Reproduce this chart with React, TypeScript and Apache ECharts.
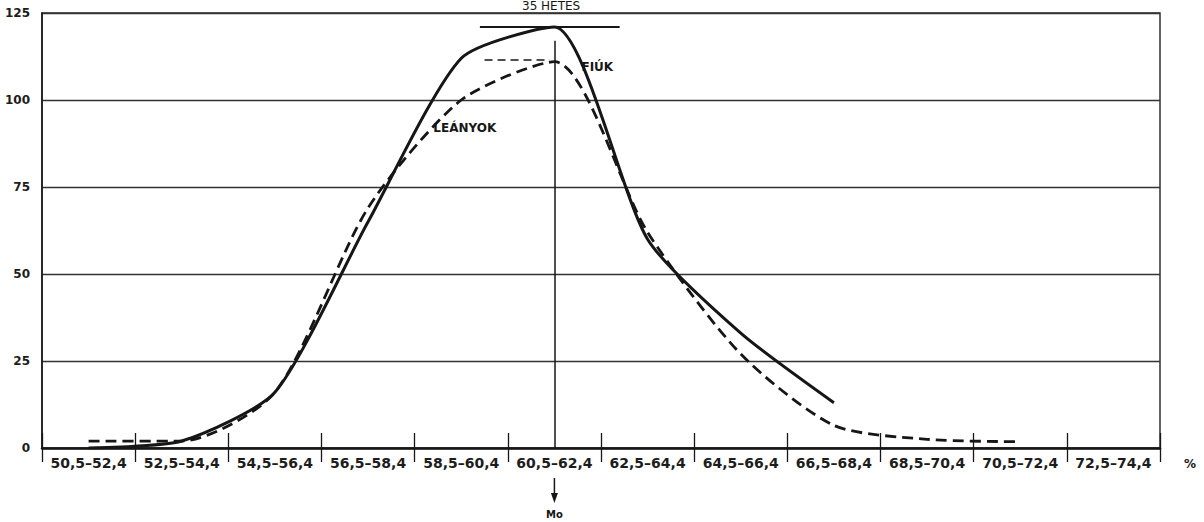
import React, { useEffect, useRef } from "react";
import * as echarts from "echarts";

// Class intervals (x categories)
const categories = [
  "50,5–52,4", "52,5–54,4", "54,5–56,4", "56,5–58,4", "58,5–60,4", "60,5–62,4",
  "62,5–64,4", "64,5–66,4", "66,5–68,4", "68,5–70,4", "70,5–72,4", "72,5–74,4",
];
// FIÚK (boys) – solid line
const boys: (number | null)[] = [0, 2, 16, 65, 112, 121, 60, 33, 13, null, null, null];
// LEÁNYOK (girls) – dashed line
const girls: (number | null)[] = [2, 2, 16, 69, 100, 111, 62, 27, 6.5, 2.5, 1.8, null];
// y axis ticks
const yMin = 0;
const yMax = 125;
const yStep = 25;
// mode (Mo) category index and peak markers
const modeIndex = 5;
const boysPeak = 121;
const girlsPeak = 111.5;
const modeLineTop = 117;

const title = "35 HETES";
const unitLabel = "%";

const FONT = "DejaVu Sans";
const INK = "#161616";

export default function App() {
  const ref = useRef<HTMLDivElement>(null);
  useEffect(() => {
    if (!ref.current) return;
    const chart = echarts.init(ref.current, null, { renderer: "svg" });
    const toPairs = (arr: (number | null)[]) =>
      arr.map((v, i) => (v === null ? null : [i, v])).filter((p) => p !== null);

    const option: any = {
      animation: false,
      backgroundColor: "#ffffff",
      grid: { left: 42, right: 44, top: 13, bottom: 74, show: true, borderColor: "#222", borderWidth: 1.4 },
      xAxis: [
        {
          type: "category",
          data: categories,
          boundaryGap: true,
          position: "bottom",
          axisLine: { show: true, lineStyle: { color: INK, width: 2.5 } },
          axisTick: { show: true, interval: 0, length: 14, lineStyle: { color: INK, width: 1.3 } },
          axisLabel: { interval: 0, fontFamily: FONT, fontWeight: "bold", fontSize: 14, color: "#1c1c1c", margin: 8 },
          splitLine: { show: false },
        },
        { type: "value", min: -0.5, max: 11.5, show: false },
        {
          type: "category",
          data: categories,
          boundaryGap: true,
          position: "bottom",
          axisLine: { show: false },
          axisTick: { show: true, inside: true, interval: 0, length: 15, lineStyle: { color: INK, width: 1.3 } },
          axisLabel: { show: false },
          splitLine: { show: false },
        },
      ],
      yAxis: {
        type: "value",
        min: yMin,
        max: yMax,
        interval: yStep,
        axisLine: { show: true, onZero: false, lineStyle: { color: INK, width: 1.5 } },
        axisTick: { show: false },
        axisLabel: { fontFamily: FONT, fontWeight: "bold", fontSize: 12, color: "#1c1c1c", margin: 12 },
        splitLine: { show: true, lineStyle: { color: "#333", width: 1.3 } },
      },
      series: [
        {
          name: "FIÚK",
          type: "line",
          xAxisIndex: 1,
          data: toPairs(boys),
          smooth: 0.22,
          showSymbol: false,
          lineStyle: { color: INK, width: 3 },
          markLine: {
            silent: true,
            symbol: "none",
            label: { show: false },
            data: [
              [
                { coord: [4.2, boysPeak], lineStyle: { color: INK, width: 1.8, type: "solid" } },
                { coord: [5.7, boysPeak] },
              ],
              [
                { coord: [modeIndex, 0], lineStyle: { color: INK, width: 1.5, type: "solid" } },
                { coord: [modeIndex, modeLineTop] },
              ],
            ],
          },
        },
        {
          name: "LEÁNYOK",
          type: "line",
          xAxisIndex: 1,
          data: toPairs(girls),
          smooth: 0.25,
          showSymbol: false,
          lineStyle: { color: INK, width: 2.8, type: [11, 6] },
          markLine: {
            silent: true,
            symbol: "none",
            label: { show: false },
            data: [
              [
                { coord: [4.25, girlsPeak], lineStyle: { color: INK, width: 1.5, type: [8, 5] } },
                { coord: [4.95, girlsPeak] },
              ],
            ],
          },
        },
      ],
    };
    chart.setOption(option);

    const px = (x: number, y: number) =>
      chart.convertToPixel({ xAxisIndex: 1, yAxisIndex: 0 }, [x, y]) as number[];
    const base = px(modeIndex, 0);
    const fiuk = px(5.29, 109.5);
    const lean = px(3.7, 92);
    const rightEdge = px(11.5, 0);

    chart.setOption({
      graphic: [
        {
          type: "text",
          left: 522,
          top: 0,
          style: { text: title, fontFamily: FONT, fontSize: 12, fill: INK, letterSpacing: 6 } as any,
        },
        {
          type: "text",
          x: fiuk[0],
          y: fiuk[1],
          style: { text: "FIÚK", fontFamily: FONT, fontWeight: "bold", fontSize: 12, fill: INK, verticalAlign: "middle", align: "left", letterSpacing: 1 } as any,
        },
        {
          type: "text",
          x: lean[0],
          y: lean[1],
          style: { text: "LEÁNYOK", fontFamily: FONT, fontWeight: "bold", fontSize: 12, fill: INK, verticalAlign: "middle", align: "left", letterSpacing: 1 } as any,
        },
        {
          type: "line",
          shape: { x1: base[0], y1: base[1] + 30, x2: base[0], y2: base[1] + 48 },
          style: { stroke: INK, lineWidth: 1.5 },
        },
        {
          type: "polygon",
          shape: { points: [[base[0] - 3.5, base[1] + 45], [base[0] + 3.5, base[1] + 45], [base[0], base[1] + 55]] },
          style: { fill: INK },
        },
        {
          type: "text",
          x: base[0],
          y: base[1] + 66,
          style: { text: "Mo", fontFamily: FONT, fontWeight: "bold", fontSize: 10, fill: INK, align: "center", verticalAlign: "middle" } as any,
        },
        {
          type: "text",
          x: rightEdge[0] + 30,
          y: rightEdge[1] + 16,
          style: { text: unitLabel, fontFamily: FONT, fontWeight: "bold", fontSize: 12, fill: INK, align: "center", verticalAlign: "middle" } as any,
        },
      ],
    });

    return () => chart.dispose();
  }, []);
  return (
    <div
      ref={ref}
      style={{ position: "fixed", left: 0, top: 0, width: 1204, height: 522, background: "#fff" }}
    />
  );
}
